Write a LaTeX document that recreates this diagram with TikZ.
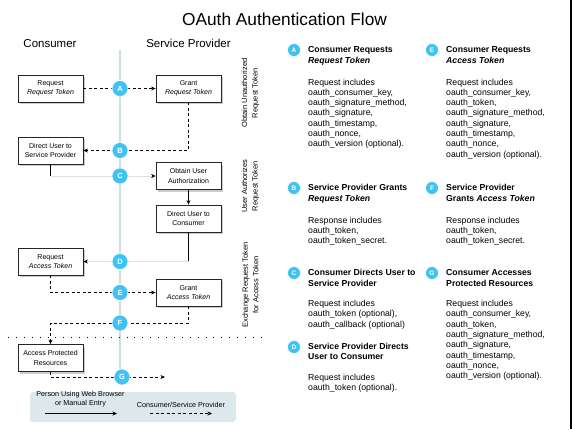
\documentclass[tikz,border=0pt]{standalone}
\usepackage{fontspec}
\setmainfont{Liberation Sans}
\usetikzlibrary{arrows.meta,shadows}
\definecolor{oblue}{HTML}{3FC3F5}
\definecolor{olane}{HTML}{CFDDE4}
\definecolor{olegend}{HTML}{DCE8EC}
\newcommand\obody[1]{\begin{tabular}[t]{@{}l@{}}#1\end{tabular}}
\begin{document}
\begin{tikzpicture}[x=1pt,y=-1pt,
  stepbox/.style={draw=black!85, line width=0.8pt, fill=white, minimum width=65pt, minimum height=27pt, inner sep=1pt, align=center, font=\fontsize{7}{9.3}\selectfont, drop shadow={shadow xshift=2pt,shadow yshift=-2pt,opacity=0.4}},
  badge/.style={circle, fill=oblue, draw=white, line width=0.6pt, minimum size=16pt, inner sep=0pt, text=white, font=\fontsize{7.5}{8}\selectfont\bfseries},
  sbadge/.style={badge, minimum size=13pt, font=\fontsize{6.5}{7}\selectfont\bfseries},
  flow/.style={line width=0.8pt, dash pattern=on 3pt off 2.5pt, -{Stealth[length=4.5pt,width=4pt]}},
  user/.style={line width=0.8pt, -{Stealth[length=4.5pt,width=4pt]}},
  info/.style={inner sep=0pt, anchor=base west, font=\fontsize{8.7}{10.5}\selectfont},
  infobody/.style={inner sep=0pt, anchor=base west, font=\fontsize{8.7}{10.33}\selectfont},
  phase/.style={rotate=90, align=center, inner sep=0pt, font=\fontsize{7.5}{10.5}\selectfont},
  head/.style={anchor=base, inner sep=0pt, font=\fontsize{11.5}{13}\selectfont},
]
\useasboundingbox (0,0) rectangle (572,429);
\fill[black] (569.5,0) rectangle (572,429);

% title and headings
\node[anchor=base, inner sep=0pt, font=\fontsize{17.3}{20}\selectfont] (title) at (284.5,25) {OAuth Authentication Flow};
\node[head] (hC) at (50,47) {Consumer};
\node[head] (hS) at (188.5,47) {Service Provider};

% lane line
\coordinate (laneTop) at (120,50);
\coordinate (laneBot) at (120,380);
\draw[olane, line width=1.6pt] (laneTop) -- (laneBot);

% boxes
\node[stepbox] (reqRT) at (50.5,88.5) {Request\\\textit{Request Token}};
\node[stepbox] (grantRT) at (188.5,88.5) {Grant\\\textit{Request Token}};
\node[stepbox] (dirSP) at (50.5,150.5) {Direct User to\\Service Provider};
\node[stepbox] (obtain) at (188.5,176) {Obtain User\\Authorization};
\node[stepbox] (dirC) at (188.5,218.5) {Direct User to\\Consumer};
\node[stepbox] (reqAT) at (50.5,261.5) {Request\\\textit{Access Token}};
\node[stepbox] (grantAT) at (188.5,292.5) {Grant\\\textit{Access Token}};
\node[stepbox] (access) at (50.5,358) {Access Protected\\Resources};

% connectors
\draw[flow] (reqRT.east) -- (grantRT.west);
\draw[flow] (grantRT.south) |- (dirSP.east);
\draw[line width=0.8pt] (dirSP.south) -- (dirSP.south |- obtain.west);
\draw[black!12, line width=0.4pt, -{Stealth[length=4.5pt,width=4pt,black]}] (dirSP.south |- obtain.west) -- (obtain.west);
\draw[user] (obtain.south) -- (dirC.north);
\draw[line width=0.8pt] (dirC.south) -- (dirC.south |- reqAT.east);
\draw[black!12, line width=0.4pt, -{Stealth[length=4.5pt,width=4pt,black]}] (dirC.south |- reqAT.east) -- (reqAT.east);
\draw[flow] (reqAT.south) |- (grantAT.west);
\coordinate (fTurn) at (188.5,323);
\draw[flow] (grantAT.south) -- (fTurn) -| (access.north);
\coordinate (gEnd) at (165,377);
\draw[flow] (access.south) |- (gEnd);

% separator
\draw[line width=0.9pt, dash pattern=on 0.9pt off 7pt] (8,337) -- (265,337);

% badges on the lane
\node[badge] (cA) at (120,88.5) {A};
\node[badge] (cB) at (120,150.5) {B};
\node[badge] (cC) at (120,176) {C};
\node[badge] (cD) at (120,261.5) {D};
\node[badge] (cE) at (120,292.5) {E};
\node[badge] (cF) at (120,323) {F};
\node[badge] (cG) at (122,377) {G};

% phase labels
\node[phase] (p1) at (250.5,93) {Obtain Unauthorized\\Request Token};
\node[phase] (p2) at (250.5,186) {User Authorizes\\Request Token};
\node[phase] (p3) at (250.5,285) {Exchange Request Token\\for Access Token};

% legend
\node[fill=olegend, rounded corners=3pt, minimum width=206pt, minimum height=30pt, inner sep=0pt] (legend) at (133,407) {};
\node[align=center, inner sep=0pt, font=\fontsize{7.2}{9}\selectfont] (lgT1) at (80.5,399.5) {Person Using Web Browser\\or Manual Entry};
\node[inner sep=0pt, font=\fontsize{7.2}{9}\selectfont] (lgT2) at (181,404.5) {Consumer/Service Provider};
\coordinate (lgS1) at (45,413.5);
\coordinate (lgS2) at (117,413.5);
\coordinate (lgD1) at (150,413.5);
\coordinate (lgD2) at (212,413.5);
\draw[user] (lgS1) -- (lgS2);
\draw[flow] (lgD1) -- (lgD2);

% right-hand descriptions
\node[sbadge] (dA) at (294,50) {A};
\node[info] (tA) at (308,52.5) {\obody{\textbf{Consumer Requests}\\\textbf{\textit{Request Token}}}};
\node[infobody] (bA) at (308,85) {\obody{Request includes\\oauth\_consumer\_key,\\oauth\_signature\_method,\\oauth\_signature,\\oauth\_timestamp,\\oauth\_nonce,\\oauth\_version (optional).}};

\node[sbadge] (dE) at (432,50) {E};
\node[info] (tE) at (446,52.5) {\obody{\textbf{Consumer Requests}\\\textbf{\textit{Access Token}}}};
\node[infobody] (bE) at (446,85) {\obody{Request includes\\oauth\_consumer\_key,\\oauth\_token,\\oauth\_signature\_method,\\oauth\_signature,\\oauth\_timestamp,\\oauth\_nonce,\\oauth\_version (optional).}};

\node[sbadge] (dB) at (294,188) {B};
\node[info] (tB) at (308,190.5) {\obody{\textbf{Service Provider Grants}\\\textbf{\textit{Request Token}}}};
\node[infobody] (bB) at (308,223) {\obody{Response includes\\oauth\_token,\\oauth\_token\_secret.}};

\node[sbadge] (dF) at (432,188) {F};
\node[info] (tF) at (446,190.5) {\obody{\textbf{Service Provider}\\\textbf{Grants \textit{Access Token}}}};
\node[infobody] (bF) at (446,223) {\obody{Response includes\\oauth\_token,\\oauth\_token\_secret.}};

\node[sbadge] (dC) at (294,273) {C};
\node[info] (tC) at (308,275.5) {\obody{\textbf{Consumer Directs User to}\\\textbf{Service Provider}}};
\node[infobody] (bC) at (308,306.5) {\obody{Request includes\\oauth\_token (optional),\\oauth\_callback (optional)}};

\node[sbadge] (dG) at (432,273) {G};
\node[info] (tG) at (446,275.5) {\obody{\textbf{Consumer Accesses}\\\textbf{Protected Resources}}};
\node[infobody] (bG) at (446,306.5) {\obody{Request includes\\oauth\_consumer\_key,\\oauth\_token,\\oauth\_signature\_method,\\oauth\_signature,\\oauth\_timestamp,\\oauth\_nonce,\\oauth\_version (optional).}};

\node[sbadge] (dD) at (294,347) {D};
\node[info] (tD) at (308,349) {\obody{\textbf{Service Provider Directs}\\\textbf{User to Consumer}}};
\node[infobody] (bD) at (308,380.5) {\obody{Request includes\\oauth\_token (optional).}};
\end{tikzpicture}
\end{document}
